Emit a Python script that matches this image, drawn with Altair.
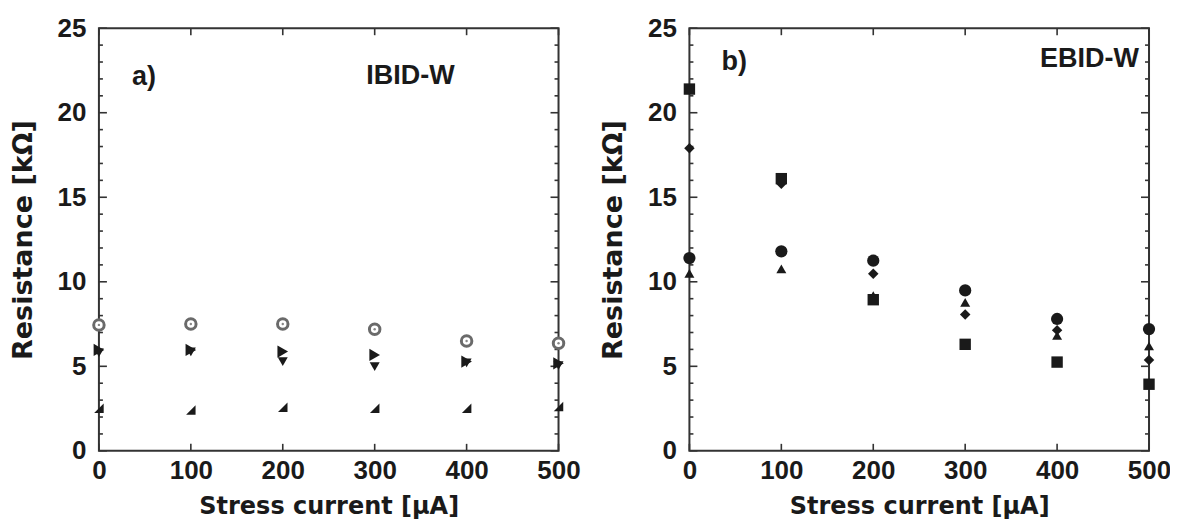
import altair as alt
import pandas as pd

# ---- data ----
current = [0, 100, 200, 300, 400, 500]

# panel a) IBID-W
a_open_circle = [7.45, 7.50, 7.50, 7.19, 6.50, 6.36]
a_tri_right = [5.97, 5.97, 5.87, 5.67, 5.28, 5.18]
a_tri_down = [5.80, 5.85, 5.28, 4.98, 5.20, 5.05]
a_corner = [2.52, 2.42, 2.58, 2.52, 2.52, 2.62]

# panel b) EBID-W
b_square = [21.4, 16.1, 8.94, 6.30, 5.25, 3.94]
b_diamond = [17.9, 15.8, 10.47, 8.06, 7.14, 5.37]
b_circle = [11.4, 11.8, 11.25, 9.49, 7.80, 7.20]
b_triangle = [10.5, 10.76, 9.18, 8.78, 6.82, 6.20]

x_major = [0, 100, 200, 300, 400, 500]
y_major = [0, 5, 10, 15, 20, 25]
y_minor = [v for v in range(0, 26) if v % 5 != 0]

a_labels = ["a)", "IBID-W"]
a_label_x = [36, 387]
a_label_y = [22.1, 22.2]
b_labels = ["b)", "EBID-W"]
b_label_x = [35, 489]
b_label_y = [23.0, 23.2]

# ---- styling ----
W, H = 460, 423
NUM_FONT = "Liberation Sans"
TITLE_FONT = "DejaVu Sans"
INK = "#1a1a1a"

x_enc = alt.X(
    "current:Q",
    scale=alt.Scale(domain=[0, 500], nice=False),
    axis=alt.Axis(
        values=x_major, title="Stress current [μA]", titleFontSize=24,
        titlePadding=11, labelPadding=7, labelFlush=False, format="d",
    ),
)
y_enc = alt.Y(
    "resistance:Q",
    scale=alt.Scale(domain=[0, 25], nice=False),
    axis=alt.Axis(
        values=y_major, title="Resistance [kΩ]", titleFontSize=27,
        titlePadding=20, labelPadding=13, format="d",
    ),
)


def pts(values, **mark):
    df = pd.DataFrame({"current": current, "resistance": values})
    return alt.Chart(df).mark_point(**mark).encode(x=x_enc, y=y_enc)


def ticks():
    ymaj = pd.DataFrame({"resistance": y_major})
    ymin = pd.DataFrame({"resistance": y_minor})
    xmaj = pd.DataFrame({"current": x_major})
    layers = []
    for df, ln in [(ymaj, 8), (ymin, 4)]:
        base = alt.Chart(df).mark_rule(color="#333", strokeWidth=1.6)
        layers.append(base.encode(y=y_enc, x=alt.value(0), x2=alt.value(ln)))
        layers.append(base.encode(y=y_enc, x=alt.value(W), x2=alt.value(W - ln)))
    base = alt.Chart(xmaj).mark_rule(color="#333", strokeWidth=1.6)
    layers.append(base.encode(x=x_enc, y=alt.value(H), y2=alt.value(H - 7)))
    layers.append(base.encode(x=x_enc, y=alt.value(0), y2=alt.value(7)))
    return layers


def labels(texts, xs, ys):
    df = pd.DataFrame({"t": texts, "current": xs, "resistance": ys})
    l1 = alt.Chart(df.iloc[[0]]).mark_text(
        align="left", baseline="middle", font=NUM_FONT, fontSize=27,
        fontWeight="bold", color=INK,
    ).encode(x=x_enc, y=y_enc, text="t:N")
    l2 = alt.Chart(df.iloc[[1]]).mark_text(
        align="right", baseline="middle", font=NUM_FONT, fontSize=27,
        fontWeight="bold", color=INK,
    ).encode(x=x_enc, y=y_enc, text="t:N")
    return [l1, l2]


panel_a = alt.layer(
    *ticks(),
    pts(a_corner, shape="M1,-1L1,1L-1,1Z", size=90, filled=True, color=INK, opacity=1),
    pts(a_tri_down, shape="triangle-down", size=100, filled=True, color=INK, opacity=1),
    pts(a_tri_right, shape="triangle-right", size=150, filled=True, color=INK, opacity=1),
    pts(a_open_circle, shape="circle", size=110, filled=False, color="#6a6a6a",
        strokeWidth=3, fill="white", fillOpacity=1, opacity=1),
    pts(a_open_circle, shape="circle", size=6, filled=True, color="#888", opacity=1),
    *labels(a_labels, a_label_x, a_label_y),
).properties(width=W, height=H)

panel_b = alt.layer(
    *ticks(),
    pts(b_triangle, shape="triangle-up", size=100, filled=True, color=INK, opacity=1),
    pts(b_diamond, shape="diamond", size=110, filled=True, color=INK, opacity=1),
    pts(b_circle, shape="circle", size=150, filled=True, color=INK, opacity=1),
    pts(b_square, shape="square", size=130, filled=True, color=INK, opacity=1),
    *labels(b_labels, b_label_x, b_label_y),
).properties(width=W, height=H)

chart = alt.hconcat(
    panel_a, panel_b, spacing=131, bounds="flush", background="white",
    padding={"left": 0, "top": 6, "right": -2, "bottom": 0},
).configure_view(
    stroke="#333", strokeWidth=2
).configure_axis(
    grid=False, domain=False, ticks=False,
    labelFont=NUM_FONT, labelFontSize=26, labelFontWeight="bold", labelColor=INK,
    titleFont=TITLE_FONT, titleFontWeight="bold", titleColor=INK,
)

chart.save("out.html", embed_options={"renderer": "svg", "actions": False})
